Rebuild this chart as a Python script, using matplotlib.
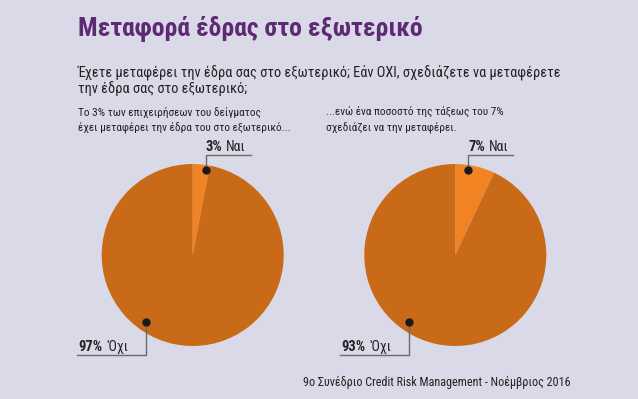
import numpy as np
import matplotlib
matplotlib.use('Agg')
import matplotlib.pyplot as plt
from matplotlib import font_manager

# data
title = 'Μεταφορά έδρας στο εξωτερικό'
question = ('Έχετε μεταφέρει την έδρα σας στο εξωτερικό; Εάν ΟΧΙ, σχεδιάζετε να μεταφέρετε\n'
            'την έδρα σας στο εξωτερικό;')
subtitles = ['Το 3% των επιχειρήσεων του δείγματος\nέχει μεταφέρει την έδρα του στο εξωτερικό...',
             '...ενώ ένα ποσοστό της τάξεως του 7%\nσχεδιάζει να την μεταφέρει.']
categories = ['Ναι', 'Όχι']
cat_labels = ['Ναι', "'Οχι"]
moved_values = [3, 97]
planning_values = [7, 93]
source = '9ο Συνέδριο Credit Risk Management - Νοέμβριος 2016'

W, H = 638, 399
bg = '#d9d9e7'
slice_colors = ['#f28322', '#c96a18']
title_color = '#5e2a74'
text_color = '#222222'
line_color = '#6b6b6b'

available = {f.name for f in font_manager.fontManager.ttflist}
narrow = 'DejaVu Sans'
for name in ['Liberation Sans Narrow', 'Roboto Condensed', 'Roboto']:
    if name in available:
        narrow = name
        break
plt.rcParams['font.family'] = [narrow, 'DejaVu Sans']

fig = plt.figure(figsize=(W / 100, H / 100), dpi=100, facecolor=bg)
ax = fig.add_axes([0, 0, 1, 1])
ax.set_facecolor(bg)


def py(y):
    # pixel y (top-down) to data y
    return H - y


ax.text(78, py(35), title, fontsize=18.5, fontweight='black', color=title_color,
        ha='left', va='baseline')
ax.text(78, py(64), question, fontsize=10.4, color=text_color, ha='left',
        va='top', linespacing=1.15)
for x0, sub in zip([78, 326], subtitles):
    lines = sub.split('\n')
    ax.text(x0, py(116), lines[0], fontsize=8.2, color=text_color, ha='left',
            va='baseline')
    ax.text(x0, py(131), lines[1], fontsize=8.2, color=text_color, ha='left',
            va='baseline')

radius = 91
pies = [(192.7, moved_values, 77), (455.3, planning_values, 340)]
for cx, values, left_x in pies:
    cy = py(255)
    ax.pie(values, colors=slice_colors, startangle=90, counterclock=False,
           center=(cx, cy), radius=radius, wedgeprops=dict(linewidth=0))
    # small slice label (top)
    ang = np.deg2rad(90 - 8.8)
    dx, dy = cx + 86 * np.cos(ang), cy + 86 * np.sin(ang)
    ax.plot([dx, dx, dx + 45], [dy, py(155), py(155)], color=line_color, lw=1)
    ax.plot(dx, dy, 'o', color='#1a1a1a', ms=5)
    ax.text(dx, py(151), '%d%%' % values[0], fontsize=10.5, fontweight='bold',
            color=text_color, ha='left', va='baseline')
    ax.text(dx + 20, py(151), cat_labels[0], fontsize=10, color=text_color,
            ha='left', va='baseline')
    # big slice label (bottom left)
    ang = np.deg2rad(90 - 215)
    bx, by = cx + 81.4 * np.cos(ang), cy + 81.4 * np.sin(ang)
    ax.plot([bx, bx, left_x], [by, py(355), py(355)], color=line_color, lw=1)
    ax.plot(bx, by, 'o', color='#1a1a1a', ms=5)
    ax.text(left_x + 1, py(351), '%d%%' % values[1], fontsize=10.5,
            fontweight='bold', color=text_color, ha='left', va='baseline')
    ax.text(left_x + 29, py(351), cat_labels[1], fontsize=10, color=text_color,
            ha='left', va='baseline')

ax.text(303, py(386), source, fontsize=8.7, color=text_color, ha='left',
        va='baseline')

ax.set_aspect('auto')
ax.set_xlim(0, W)
ax.set_ylim(0, H)
ax.axis('off')

fig.savefig('out.png', dpi=100, facecolor=bg)
